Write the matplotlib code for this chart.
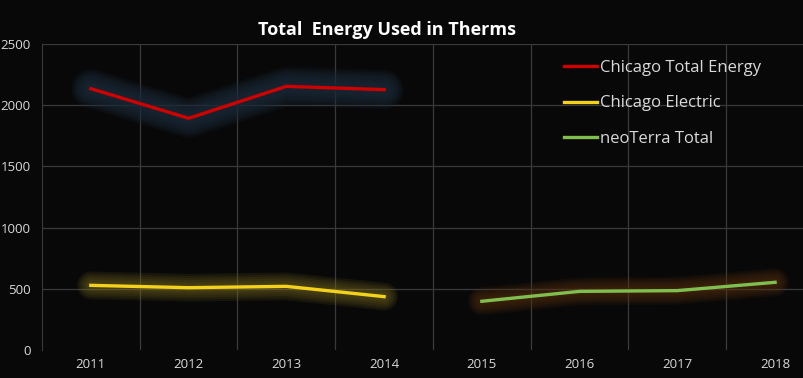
import matplotlib
matplotlib.use("Agg")
from matplotlib import pyplot as plt

years = ["2011", "2012", "2013", "2014", "2015", "2016", "2017", "2018"]
chicago_total = [2135, 1893, 2154, 2127]
chicago_electric = [528, 509, 520, 436]
neoterra_total = [398, 479, 485, 553]

plt.rcParams['font.family'] = ['Open Sans', 'DejaVu Sans']

fig = plt.figure(figsize=(8.04, 3.78), dpi=100, facecolor="#080808")
ax = fig.add_axes([0.0522, 0.0741, 0.9726, 0.8095], facecolor="#080808")

x = list(range(len(years)))
x_chi = x[:4]
x_neo = x[4:]


def glow_line(xs, ys, color, glow, label, width_max, alpha):
    # fake soft glow: stack of wide translucent strokes
    for w in range(width_max, 2, -3):
        ax.plot(xs, ys, color=glow, lw=w, alpha=alpha, solid_capstyle="round",
                solid_joinstyle="round", zorder=2)
    ax.plot(xs, ys, color=color, lw=2.4, solid_joinstyle="round", label=label, zorder=3)


glow_line(x_chi, chicago_total, "#d00000", "#1c2a38", "Chicago Total Energy", 28, 0.2)
glow_line(x_chi, chicago_electric, "#f4d21a", "#7a6a20", "Chicago Electric", 20, 0.13)
glow_line(x_neo, neoterra_total, "#7fbf4f", "#5a3210", "neoTerra Total", 20, 0.14)

ax.set_xlim(-0.5, len(years) - 0.5)
ax.set_ylim(0, 2500)
ax.set_yticks([0, 500, 1000, 1500, 2000, 2500])
ax.set_xticks(x)
ax.set_xticklabels(years)

# gridlines between categories
for b in range(1, len(years)):
    ax.axvline(b - 0.5, color="#3a3a3a", lw=0.9, zorder=1)
for yv in [500, 1000, 1500, 2000, 2500]:
    ax.axhline(yv, color="#3a3a3a", lw=0.9, zorder=1)

for s in ax.spines.values():
    s.set_visible(False)
ax.spines["left"].set_visible(True)
ax.spines["left"].set_color("#3a3a3a")
ax.tick_params(length=0, colors="#d9d9d9", labelsize=9.5)
ax.tick_params(axis="y", pad=8)
ax.tick_params(axis="x", pad=6)

fig.text(0.481, 0.92, "Total  Energy Used in Therms", color="white", fontsize=13,
         fontweight="bold", ha="center", va="center")

leg = ax.legend(loc="upper left", bbox_to_anchor=(0.648, 0.996), frameon=False,
                fontsize=12, labelspacing=1.15, handlelength=2.0, handletextpad=0.2)
for t in leg.get_texts():
    t.set_color("#d9d9d9")

fig.savefig("out.png", dpi=100, facecolor=fig.get_facecolor())
